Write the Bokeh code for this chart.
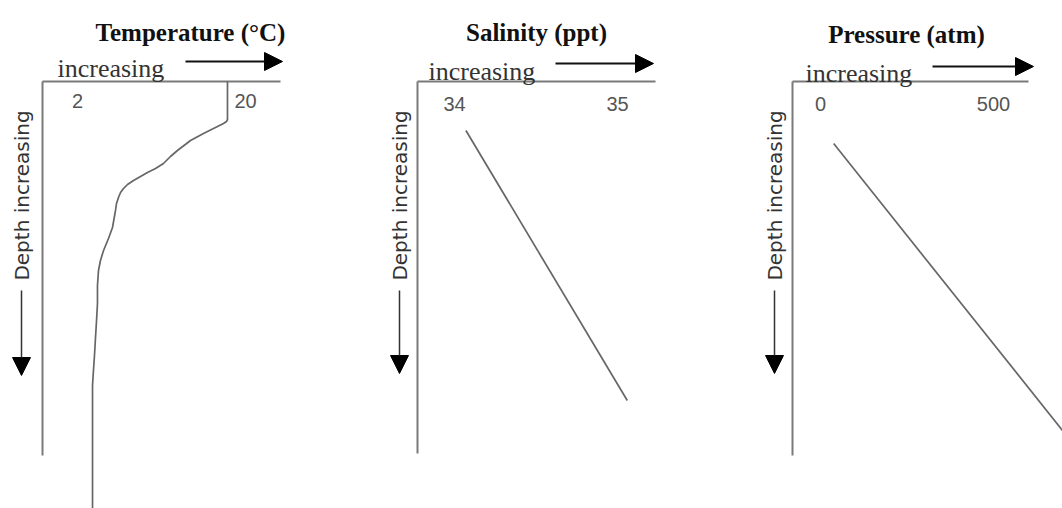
import numpy as np
from bokeh.plotting import figure
from bokeh.layouts import row
from bokeh.models import Range1d, Label, Arrow, NormalHead
from bokeh.embed import file_html
from bokeh.resources import INLINE

# ---------------- data ----------------
titles = ["Temperature (°C)", "Salinity (ppt)", "Pressure (atm)"]

temp_c = [18.07, 18.07, 17.96, 17.64, 17.11, 16.57, 15.50, 14.11, 12.71, 11.96,
          11.21, 10.36, 9.50, 8.75, 8.00, 7.36, 6.93, 6.61, 6.39, 6.18, 6.07,
          5.75, 5.32, 4.79, 4.46, 4.25, 4.14, 4.14, 4.04, 3.93, 3.82, 3.71,
          3.61, 3.61, 3.61]
temp_depth = [0, 10.16, 10.70, 11.23, 11.90, 12.57, 13.90, 15.78, 18.45, 20.05,
              21.93, 23.26, 24.33, 25.40, 26.47, 27.54, 28.61, 29.68, 31.02, 32.62,
              34.49, 39.04, 41.98, 45.19, 47.86, 50.53, 54.55, 59.36, 63.90, 68.45,
              73.26, 77.27, 81.28, 85.29, 114.7]

sal_ppt = [34.07, 35.06]
sal_depth = [13.1, 85.3]

pres_atm = [38, 757]
pres_depth = [16.6, 100]

temp_ticks = [2, 20]
sal_ticks = [34, 35]
pres_ticks = [0, 500]

# ---------------- layout helpers ----------------
H = 508
widths = [354, 354, 354]
fig_left = [0, 354, 708]
DEPTH_PX = 3.74          # px per depth unit
TOP_PX = 81              # image y of depth 0


def D(y):  # image y -> depth units
    return (y - TOP_PX) / DEPTH_PX


panels = [
    dict(v0=2, p0=77, s=168 / 18, data=(temp_c, temp_depth), ticks=temp_ticks,
         tick_y=100, axis_x=42, axis_r=280, axis_b=455,
         title_x=190, title_y=32, inc_x=57, inc_y=68, arr=(185, 282, 61),
         dep_x=21, dep_arr=(290, 375)),
    dict(v0=34, p0=454, s=163, data=(sal_ppt, sal_depth), ticks=sal_ticks,
         tick_y=103, axis_x=417, axis_r=655, axis_b=453,
         title_x=536, title_y=32, inc_x=428, inc_y=71, arr=(555, 653, 63),
         dep_x=399, dep_arr=(290, 373)),
    dict(v0=0, p0=820, s=173 / 500, data=(pres_atm, pres_depth), ticks=pres_ticks,
         tick_y=103, axis_x=792, axis_r=1028, axis_b=455,
         title_x=906, title_y=34, inc_x=805, inc_y=73, arr=(932, 1033, 66),
         dep_x=774, dep_arr=(290, 373)),
]

figs = []
for i, pn in enumerate(panels):
    fl, w = fig_left[i], widths[i]
    X = lambda px, pn=pn: pn["v0"] + (px - pn["p0"]) / pn["s"]
    p = figure(width=w, height=H, output_backend="svg", toolbar_location=None,
               x_range=Range1d(X(fl), X(fl + w)),
               y_range=Range1d(D(H), D(0)),
               min_border=0, outline_line_color=None)
    p.axis.visible = False
    p.grid.visible = False
    p.background_fill_color = "white"
    p.border_fill_color = "white"

    # frame lines (top and left)
    p.segment(x0=[X(pn["axis_x"]), X(pn["axis_x"])], y0=[0, 0],
              x1=[X(pn["axis_x"]), X(pn["axis_r"])], y1=[D(pn["axis_b"]), 0],
              line_color="#7a7a7a", line_width=2)

    # profile
    xs, ds = pn["data"]
    p.line(xs, ds, line_color="#666666", line_width=1.7, line_join="round")

    # tick labels
    for t in pn["ticks"]:
        p.add_layout(Label(x=t, y=D(pn["tick_y"]), text=str(t), text_align="center",
                           text_baseline="middle", text_font="Liberation Sans",
                           text_font_size="20px", text_color="#555555"))

    # title
    p.add_layout(Label(x=X(pn["title_x"]), y=D(pn["title_y"]), text=titles[i],
                       text_align="center", text_baseline="alphabetic",
                       text_font="Liberation Serif", text_font_style="bold",
                       text_font_size="25px", text_color="#111111"))

    # "increasing" + arrow
    p.add_layout(Label(x=X(pn["inc_x"]), y=D(pn["inc_y"]), text="increasing",
                       text_align="left", text_baseline="alphabetic",
                       text_font="Liberation Serif", text_font_size="26px",
                       text_color="#333333"))
    a0, a1, ay = pn["arr"]
    p.add_layout(Arrow(x_start=X(a0), y_start=D(ay), x_end=X(a1), y_end=D(ay),
                       line_color="#111111", line_width=2,
                       end=NormalHead(size=18, fill_color="black", line_color="black")))

    # depth label + arrow
    p.add_layout(Label(x=X(pn["dep_x"]), y=D(195), text="Depth increasing",
                       angle=np.pi / 2, text_align="center", text_baseline="middle",
                       text_font="DejaVu Sans", text_font_size="20px",
                       text_color="#333333"))
    d0, d1 = pn["dep_arr"]
    p.add_layout(Arrow(x_start=X(pn["dep_x"]), y_start=D(d0), x_end=X(pn["dep_x"]),
                       y_end=D(d1), line_color="#333333", line_width=1.5,
                       end=NormalHead(size=18, fill_color="black", line_color="black")))
    figs.append(p)

layout = row(*figs, spacing=0)
open("out.html", "w").write(file_html(layout, INLINE))
